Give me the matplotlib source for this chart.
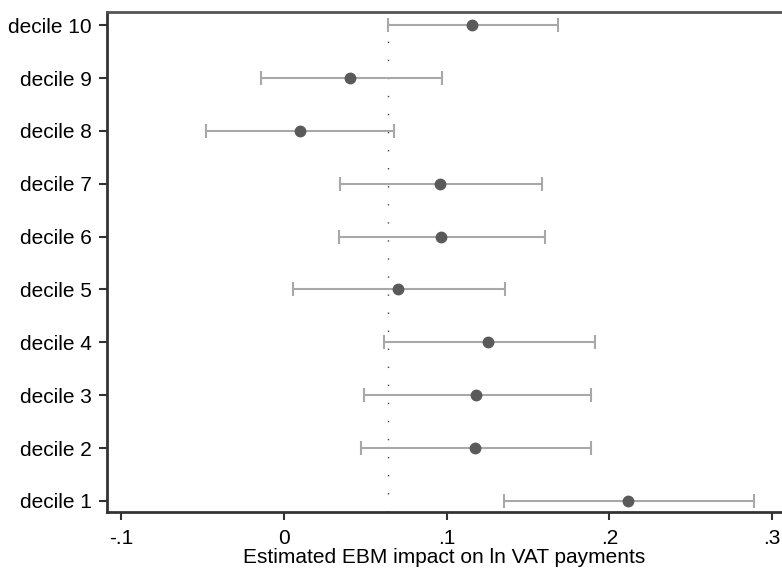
import matplotlib.pyplot as plt
import numpy as np

plt.rcParams['font.family'] = ['Liberation Sans', 'DejaVu Sans']

# coefficient estimates and 95% CI
labels = ['decile 1', 'decile 2', 'decile 3', 'decile 4', 'decile 5',
          'decile 6', 'decile 7', 'decile 8', 'decile 9', 'decile 10']
coef = [0.2115, 0.1173, 0.1179, 0.1256, 0.0698, 0.0964, 0.0958, 0.0098, 0.0407, 0.1153]
ci_lo = [0.1350, 0.0471, 0.0491, 0.0614, 0.0053, 0.0338, 0.0344, -0.0481, -0.0141, 0.0639]
ci_hi = [0.2891, 0.1884, 0.1884, 0.1910, 0.1357, 0.1603, 0.1583, 0.0676, 0.0969, 0.1683]
ref_line = 0.0637
xticks = [-0.1, 0, 0.1, 0.2, 0.3]
xticklabels = ['-.1', '0', '.1', '.2', '.3']

fig = plt.figure(figsize=(7.82, 5.70), dpi=100)
ax = fig.add_axes([107 / 782, 58 / 570, 675 / 782, 500 / 570])

y = np.arange(1, len(labels) + 1)
coef = np.array(coef)
err = np.vstack([coef - np.array(ci_lo), np.array(ci_hi) - coef])

ax.axvline(ref_line, color='#444444', lw=1, linestyle=(0, (1, 12)), zorder=1)
ax.errorbar(coef, y, xerr=err, fmt='none', ecolor='#a8a8a8', elinewidth=1.5,
            capsize=5, capthick=1.5, zorder=2)
ax.plot(coef, y, 'o', color='#5a5a5a', markersize=7.5, zorder=3)

ax.set_xlim(-0.1087, 0.306)
ax.set_ylim(0.79, 10.25)
ax.set_yticks(y)
ax.set_yticklabels(labels)
ax.set_xticks(xticks)
ax.set_xticklabels(xticklabels)
ax.set_xlabel('Estimated EBM impact on ln VAT payments', fontsize=15, labelpad=0)

for s in ['left', 'bottom']:
    ax.spines[s].set_color('#333333')
    ax.spines[s].set_linewidth(2)
ax.spines['top'].set_color('#555555')
ax.spines['top'].set_linewidth(2)
ax.spines['right'].set_visible(False)
ax.tick_params(axis='both', colors='#333333', labelcolor='black', labelsize=15,
               length=6, width=1.5)
ax.tick_params(axis='x', pad=6)
ax.tick_params(axis='y', pad=5)

plt.savefig('out.png')
